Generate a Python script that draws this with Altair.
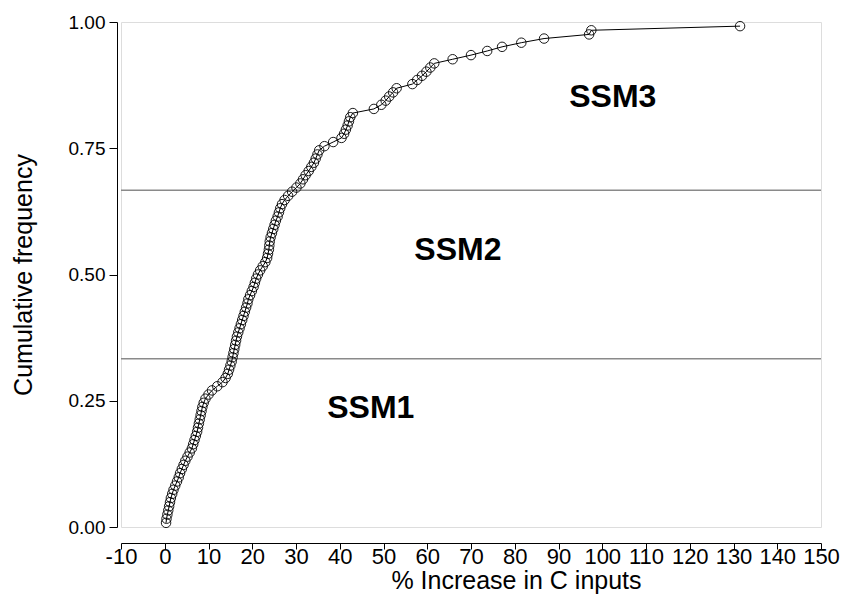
import altair as alt
import pandas as pd

# % increase in C inputs, sorted
increase = [
    0.3, 0.4, 0.6, 0.8, 1.0, 1.2, 1.4, 1.7, 2.0, 2.4,
    2.8, 3.2, 3.5, 3.9, 4.3, 4.7, 5.2, 5.7, 6.2, 6.5,
    6.8, 7.1, 7.4, 7.6, 7.8, 8.0, 8.2, 8.4, 8.6, 8.9,
    9.3, 10.0, 10.8, 12.0, 13.2, 13.9, 14.4, 14.7, 15.0, 15.3,
    15.5, 15.7, 15.9, 16.1, 16.3, 16.5, 16.8, 17.1, 17.4, 17.7,
    18.0, 18.3, 18.6, 18.9, 19.1, 19.5, 19.9, 20.3, 20.6, 20.9,
    21.3, 21.8, 22.4, 23.0, 23.4, 23.6, 23.8, 23.9, 24.0, 24.2,
    24.5, 24.8, 25.1, 25.4, 25.8, 26.1, 26.4, 26.8, 27.4, 28.2,
    29.1, 30.1, 31.0, 31.6, 32.2, 32.9, 33.5, 34.1, 34.5, 34.9,
    35.3, 36.5, 38.5, 40.4, 41.0, 41.4, 41.8, 42.1, 42.4, 43.0,
    47.8, 49.5, 50.5, 51.3, 52.2, 53.0, 56.6, 57.7, 58.8, 59.8,
    60.7, 61.6, 65.8, 70.0, 73.7, 77.1, 81.5, 86.7, 97.0, 97.5,
    131.5,
]
n = len(increase)
cumfreq = [(i + 1) / (n + 1) for i in range(n)]

# threshold lines separating the three groups
thresholds = [1 / 3, 2 / 3]

# group labels and their positions (data units)
label_text = ["SSM1", "SSM2", "SSM3"]
label_x = [47.1, 67.0, 102.4]
label_y = [0.236, 0.549, 0.851]

x_ticks = list(range(-10, 151, 10))
y_ticks = [0.0, 0.25, 0.5, 0.75, 1.0]

df = pd.DataFrame({"x": increase, "y": cumfreq})
df_rules = pd.DataFrame({"y": thresholds})
df_labels = pd.DataFrame({"t": label_text, "x": label_x, "y": label_y})

FONT = "Liberation Sans"

xscale = alt.Scale(domain=[-10, 150], nice=False, zero=False)
yscale = alt.Scale(domain=[0, 1], nice=False)

xaxis = alt.Axis(
    values=x_ticks, title="% Increase in C inputs", grid=False,
    offset=16, domainColor="black", tickColor="black", tickSize=6,
    labelFont=FONT, labelFontSize=22, labelColor="black", labelPadding=7,
    labelBaseline="middle", labelOverlap=False, labelFlush=False,
    labelExpr="toString(datum.value)",
    titleFont=FONT, titleFontSize=25, titleFontWeight="normal", titleColor="black",
    titleX=395, titleY=37, titleBaseline="middle",
)
yaxis = alt.Axis(
    values=y_ticks, format=".2f", title="Cumulative frequency", grid=False,
    offset=4, domainColor="black", tickColor="black", tickSize=8,
    labelFont=FONT, labelFontSize=19, labelColor="black", labelPadding=4,
    labelOverlap=False, labelFlush=False,
    titleFont=FONT, titleFontSize=25, titleFontWeight="normal", titleColor="black",
    titleX=-94, titleBaseline="middle",
)

base = alt.Chart(df)

line = base.mark_line(color="black", strokeWidth=1).encode(
    x=alt.X("x:Q", scale=xscale, axis=xaxis),
    y=alt.Y("y:Q", scale=yscale, axis=yaxis),
)
pts = base.mark_point(shape="circle", filled=False, color="black", size=90, strokeWidth=1, opacity=0.9).encode(
    x=alt.X("x:Q", scale=xscale),
    y=alt.Y("y:Q", scale=yscale),
)
rules = alt.Chart(df_rules).mark_rule(color="#8a8a8a", strokeWidth=1.5).encode(
    y=alt.Y("y:Q", scale=yscale),
)
labels = alt.Chart(df_labels).mark_text(
    font=FONT, fontSize=32, fontWeight="bold", color="black", align="center", baseline="middle"
).encode(
    x=alt.X("x:Q", scale=xscale),
    y=alt.Y("y:Q", scale=yscale),
    text="t:N",
)

chart = alt.layer(rules, line, pts, labels).properties(
    width=700, height=505,
    autosize=alt.AutoSizeParams(type="none"),
    padding={"left": 121, "top": 22, "right": 22, "bottom": 89},
).configure_view(stroke=None).configure(background="white")

chart.save("out.html", embed_options={"renderer": "svg", "actions": False})
